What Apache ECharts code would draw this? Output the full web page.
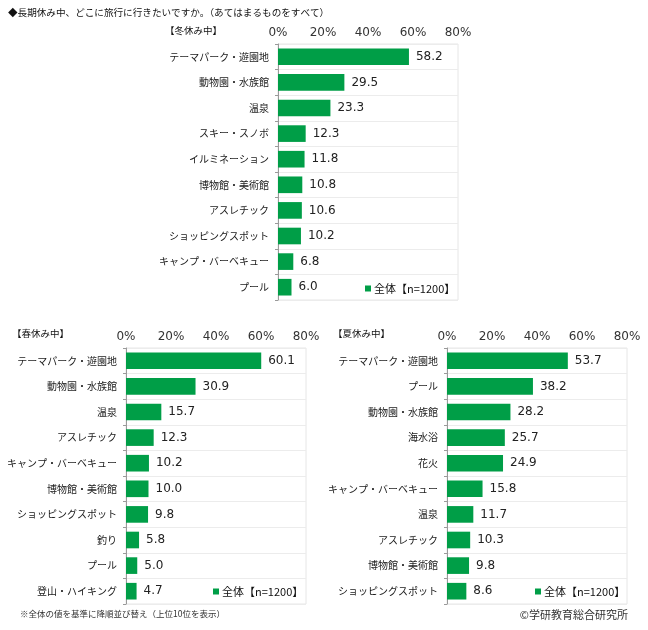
<!DOCTYPE html>
<html>
<head>
<meta charset="utf-8">
<script src="https://cdn.jsdelivr.net/npm/echarts@6/dist/echarts.min.js"></script>
<style>
html,body{margin:0;padding:0;background:#fff;}
#c{width:648px;height:630px;}
</style>
</head>
<body>
<div id="c"></div>
<script>
var winterCats = ['テーマパーク・遊園地','動物園・水族館','温泉','スキー・スノボ','イルミネーション','博物館・美術館','アスレチック','ショッピングスポット','キャンプ・バーベキュー','プール'];
var winterVals = [58.2,29.5,23.3,12.3,11.8,10.8,10.6,10.2,6.8,6.0];
var springCats = ['テーマパーク・遊園地','動物園・水族館','温泉','アスレチック','キャンプ・バーベキュー','博物館・美術館','ショッピングスポット','釣り','プール','登山・ハイキング'];
var springVals = [60.1,30.9,15.7,12.3,10.2,10.0,9.8,5.8,5.0,4.7];
var summerCats = ['テーマパーク・遊園地','プール','動物園・水族館','海水浴','花火','キャンプ・バーベキュー','温泉','アスレチック','博物館・美術館','ショッピングスポット'];
var summerVals = [53.7,38.2,28.2,25.7,24.9,15.8,11.7,10.3,9.8,8.6];
var axisMin = 0, axisMax = 80, axisStep = 20;
var seriesName = '全体【n=1200】';
var panelTitles = ['【冬休み中】','【春休み中】','【夏休み中】'];
var mainTitle = '◆長期休み中、どこに旅行に行きたいですか。（あてはまるものをすべて）';
var footNote = '※全体の値を基準に降順並び替え（上位10位を表示）';
var credit = '©学研教育総合研究所';

var GREEN = '#009E47';
var JP = '"Noto Sans CJK JP", sans-serif';
var NUM = '"DejaVu Sans", sans-serif';

var grids = [
  {left:278, top:44, width:180, height:256},
  {left:126, top:348, width:180, height:256},
  {left:447, top:348, width:180, height:256}
];
var cats = [winterCats, springCats, summerCats];
var vals = [winterVals, springVals, summerVals];

var option = {
  animation:false,
  backgroundColor:'#fff',
  grid: grids.map(function(g){ return Object.assign({show:true, borderColor:'#e6e6e6', borderWidth:1, backgroundColor:'transparent'}, g); }),
  xAxis: grids.map(function(g,i){ return {
    type:'value', gridIndex:i, position:'top', min:axisMin, max:axisMax, interval:axisStep,
    axisLine:{show:false}, axisTick:{show:false}, splitLine:{show:false},
    axisLabel:{formatter:'{value}%', fontFamily:NUM, fontSize:12, color:'#333', margin:5}
  };}),
  yAxis: grids.map(function(g,i){ return {
    type:'category', gridIndex:i, inverse:true, data:cats[i],
    axisLine:{show:true, lineStyle:{color:'#9a9a9a'}},
    axisTick:{show:true, length:3, lineStyle:{color:'#9a9a9a'}},
    splitLine:{show:true, lineStyle:{color:'#ececec'}},
    axisLabel:{fontFamily:JP, fontSize:10, color:'#1a1a1a', margin:9}
  };}),
  legend: [
    {left:360, top:278},
    {left:208, top:581},
    {left:530, top:581}
  ].map(function(p){ return Object.assign({
    data:[seriesName], icon:'rect', itemWidth:6, itemHeight:6, itemGap:4,
    textStyle:{fontFamily:JP, fontSize:11, color:'#111', padding:[0,0,0,-2]},
    selectedMode:false
  }, p);}),
  series: grids.map(function(g,i){ return {
    name:seriesName, type:'bar', xAxisIndex:i, yAxisIndex:i, data:vals[i],
    barWidth:'65%', itemStyle:{color:GREEN},
    label:{show:true, position:'right', distance:7, fontFamily:NUM, fontSize:12, color:'#222',
      formatter:function(p){ return p.value.toFixed(1); }}
  };}),
  graphic: [
    {type:'text', left:8, top:8, style:{text:mainTitle, font:'9.6px '+JP, fill:'#111'}},
    {type:'text', left:165, top:26, style:{text:panelTitles[0], font:'9.5px '+JP, fill:'#111'}},
    {type:'text', left:12, top:329, style:{text:panelTitles[1], font:'9.5px '+JP, fill:'#111'}},
    {type:'text', left:333, top:329, style:{text:panelTitles[2], font:'9.5px '+JP, fill:'#111'}},
    {type:'text', left:20, top:610, style:{text:footNote, font:'8.5px '+JP, fill:'#333'}},
    {type:'text', right:20, top:609, style:{text:credit, font:'11px '+JP, fill:'#333'}}
  ]
};
var chart = echarts.init(document.getElementById('c'), null, {renderer:'canvas'});
chart.setOption(option);
</script>
</body>
</html>
